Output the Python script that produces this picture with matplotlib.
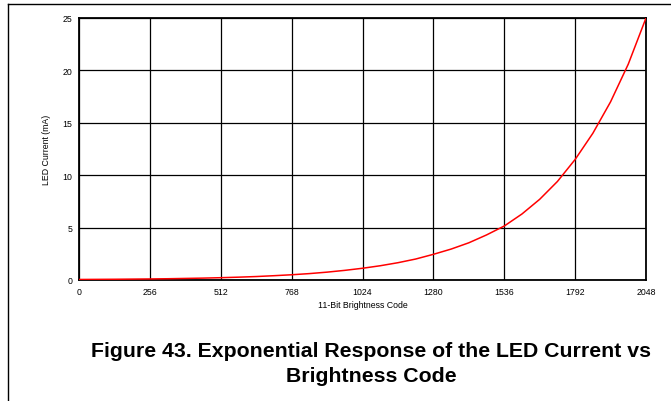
import matplotlib
matplotlib.use("Agg")
from matplotlib import pyplot as plt
from matplotlib.lines import Line2D
import numpy as np

plt.rcParams['font.family'] = ['Liberation Sans', 'DejaVu Sans']

# brightness code vs LED current (mA)
codes = [0, 64, 128, 192, 256, 320, 384, 448, 512, 576, 640, 704, 768,
         832, 896, 960, 1024, 1088, 1152, 1216, 1280, 1344, 1408, 1472,
         1536, 1600, 1664, 1728, 1792, 1856, 1920, 1984, 2048]
current = [0.05, 0.06, 0.07, 0.085, 0.10, 0.12, 0.15, 0.18, 0.22, 0.27,
           0.33, 0.41, 0.50, 0.61, 0.75, 0.92, 1.12, 1.36, 1.65, 2.0, 2.45,
           2.95, 3.55, 4.3, 5.15, 6.3, 7.7, 9.4, 11.5, 14.0, 17.0, 20.6, 25.0]
xticks = [0, 256, 512, 768, 1024, 1280, 1536, 1792, 2048]
yticks = [0, 5, 10, 15, 20, 25]

fig = plt.figure(figsize=(6.71, 4.02), dpi=100)
ax = fig.add_axes([79 / 671, 1 - 281 / 402, 567 / 671, 262 / 402])

ax.plot(codes, current, color='red', lw=1.1, zorder=3)
ax.set_xlim(0, 2048)
ax.set_ylim(0, 25)
ax.set_xticks(xticks)
ax.set_yticks(yticks)
ax.grid(True, color='black', lw=0.9)
ax.tick_params(length=0, labelsize=6.3, pad=5)
for s in ax.spines.values():
    s.set_linewidth(1.3)
ax.set_xlabel('11-Bit Brightness Code', fontsize=6.3, labelpad=3)
ax.set_ylabel('LED Current (mA)', fontsize=6.3, labelpad=8)

fig.text(0.553, 1 - 352 / 402, 'Figure 43. Exponential Response of the LED Current vs',
         ha='center', va='center', fontsize=15.3, fontweight='bold')
fig.text(0.553, 1 - 377 / 402, 'Brightness Code',
         ha='center', va='center', fontsize=15.3, fontweight='bold')

# page frame
fig.add_artist(Line2D([8 / 671, 1], [1 - 4.5 / 402] * 2, color='black', lw=1))
fig.add_artist(Line2D([8.3 / 671] * 2, [0, 1 - 4.5 / 402], color='black', lw=1))

fig.savefig('out.png', dpi=100)
